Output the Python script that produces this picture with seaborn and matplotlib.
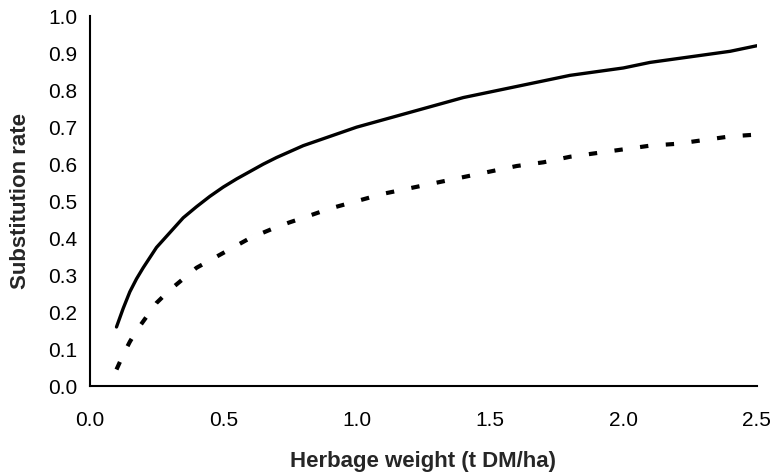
import numpy as np
import pandas as pd
import matplotlib
matplotlib.use('Agg')
import matplotlib.pyplot as plt
import seaborn as sns

# values
herbage = [0.1, 0.125, 0.15, 0.175, 0.2, 0.25, 0.3, 0.35, 0.4, 0.45, 0.5, 0.55,
           0.6, 0.65, 0.7, 0.75, 0.8, 0.9, 1.0, 1.1, 1.2, 1.3, 1.4, 1.5, 1.6,
           1.7, 1.8, 1.9, 2.0, 2.1, 2.2, 2.3, 2.4, 2.5]
solid_rate = [0.16, 0.21, 0.255, 0.29, 0.32, 0.375, 0.415, 0.455, 0.485, 0.513,
              0.538, 0.56, 0.58, 0.60, 0.618, 0.634, 0.65, 0.675, 0.70, 0.72, 0.74,
              0.76, 0.78, 0.795, 0.81, 0.825, 0.84, 0.85, 0.86, 0.875, 0.885,
              0.895, 0.905, 0.92]
dotted_rate = [0.045, 0.085, 0.12, 0.15, 0.175, 0.225, 0.26, 0.29, 0.32, 0.34,
               0.36, 0.38, 0.40, 0.415, 0.43, 0.443, 0.455, 0.48, 0.50, 0.52,
               0.535, 0.55, 0.565, 0.58, 0.595, 0.605, 0.62, 0.63, 0.64, 0.65,
               0.655, 0.665, 0.675, 0.68]

df = pd.DataFrame({'Herbage': herbage, 'Solid': solid_rate, 'Dotted': dotted_rate})

sns.set_style('white')
plt.rcParams['font.family'] = ['Liberation Sans', 'DejaVu Sans']

fig = plt.figure(figsize=(7.81, 4.75), dpi=100)
ax = fig.add_axes([0.115, 0.187, 0.854, 0.779])

sns.lineplot(data=df, x='Herbage', y='Solid', ax=ax, color='black', linewidth=2.4)
sns.lineplot(data=df, x='Herbage', y='Dotted', ax=ax, color='black', linewidth=3.0,
             dashes=False)
ax.lines[-1].set_dashes((2.0, 4.2))

ax.set_xlim(0, 2.5)
ax.set_ylim(0, 1.0)
ax.set_xticks(np.arange(0, 2.51, 0.5))
ax.set_yticks(np.arange(0, 1.01, 0.1))
ax.set_xticklabels([f'{v:.1f}' for v in np.arange(0, 2.51, 0.5)])
ax.set_yticklabels([f'{v:.1f}' for v in np.arange(0, 1.01, 0.1)])

sns.despine(ax=ax)
for s in ['left', 'bottom']:
    ax.spines[s].set_linewidth(1.5)
    ax.spines[s].set_color('black')
ax.tick_params(axis='both', direction='out', length=5, width=1.5, color='black',
               labelsize=15, labelcolor='black')
ax.tick_params(axis='x', pad=13)
ax.tick_params(axis='y', pad=4)

ax.set_xlabel('Herbage weight (t DM/ha)', fontsize=16, fontweight='bold', labelpad=15)
ax.set_ylabel('Substitution rate', fontsize=16, fontweight='bold', labelpad=12)

fig.savefig('out.png', dpi=100)
